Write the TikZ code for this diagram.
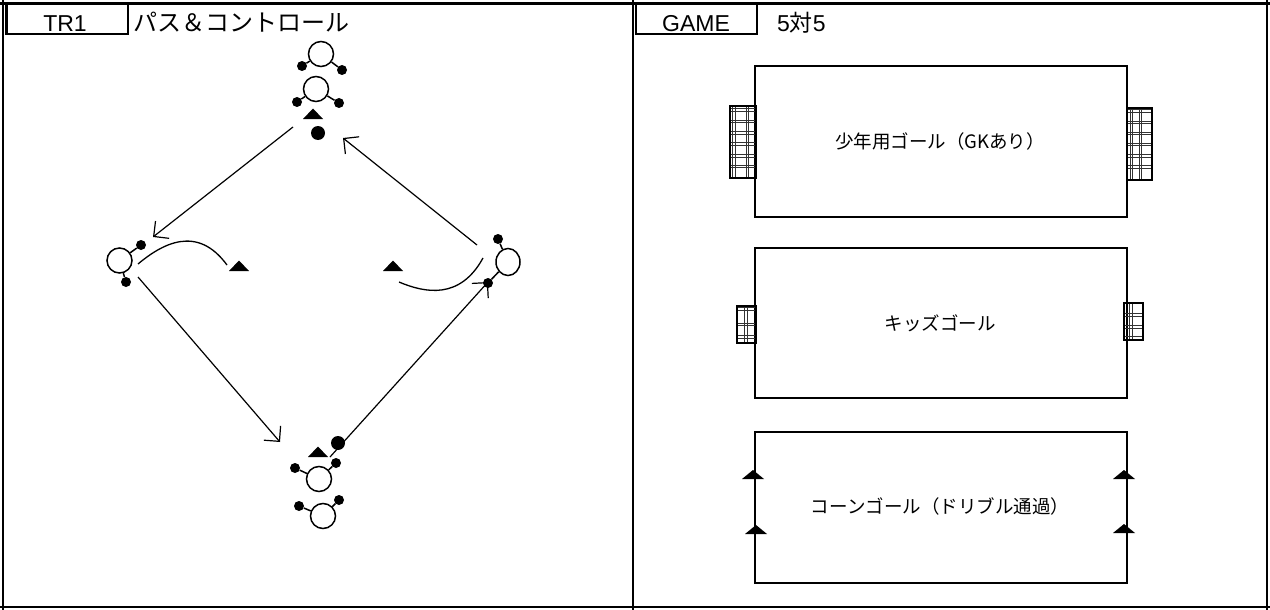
\documentclass[tikz,border=0pt]{standalone}
\usepackage{fontspec}
\setmainfont{Liberation Sans}
\newfontfamily\jp{Noto Sans CJK JP}
\usetikzlibrary{arrows.meta,shapes.geometric}
\newcommand\netgoal[6]{%
  \foreach \xx in {#5} {\draw[netline] (\xx-1.3,#2) -- (\xx-1.3,#4) (\xx+1.3,#2) -- (\xx+1.3,#4);}
  \foreach \yy in {#6} {\draw[netline] (#1,\yy-1.3) -- (#3,\yy-1.3) (#1,\yy+1.3) -- (#3,\yy+1.3);}
  \draw[line width=2pt] (#1,#2) rectangle (#3,#4);
}
\begin{document}
\begin{tikzpicture}[x=1pt,y=-1pt,
  frame/.style={line width=2.8pt},
  hdrbox/.style={line width=2.8pt},
  field/.style={line width=2.4pt},
  netline/.style={line width=1.1pt,black!80},
  pass/.style={line width=1.2pt,-{Straight Barb[length=11pt,width=22pt,line width=1.2pt]}},
  runline/.style={line width=1.3pt},
  player/.style={circle,draw,line width=1.5pt,minimum size=25pt,inner sep=0pt},
  hand/.style={circle,fill,minimum size=10pt,inner sep=0pt},
  ball/.style={circle,fill,minimum size=14pt,inner sep=0pt},
  arm/.style={line width=1.5pt},
  hdr/.style={font=\fontsize{23}{23}\selectfont,inner sep=0pt},
  lbl/.style={font=\jp\fontsize{18.5}{18.5}\selectfont,inner sep=0pt},
  cone/.pic={\fill (-10,4) -- (10,4) -- (0,-6.5) -- cycle;},
  fcone/.pic={\fill (-11,0) -- (11,0) -- (0,-9) -- cycle;}
]
\useasboundingbox (0,0) rectangle (1270,610);
% frame
\draw[frame] (0,3.5) -- (1270,3.5);
\draw[frame] (3,0) -- (3,610);
\draw[frame] (633,0) -- (633,610);
\draw[frame] (1267,0) -- (1267,610);
\draw[frame] (0,607) -- (1270,607);
% headers
\draw[hdrbox] (6.5,3.5) -- (6.5,34) -- (128,34) -- (128,3.5);
\draw[hdrbox] (636,3.5) -- (636,34) -- (757,34) -- (757,3.5);
\node[hdr,anchor=base] (tr) at (65,32) {TR1};
\node[hdr,anchor=base west,font=\jp\fontsize{24}{24}\selectfont] (ttl) at (133,32) {パス＆コントロール};
\node[hdr,anchor=base] (game) at (696,32) {GAME};
\node[hdr,anchor=base west] (vs) at (777,32) {5{\jp 対}5};

% ---------- left panel ----------
% top players
\node[player] (t1) at (321,54) {};
\node[hand] (t1a) at (302,66) {};
\node[hand] (t1b) at (342,70) {};
\draw[arm] (t1) -- (t1a); \draw[arm] (t1) -- (t1b);
\node[player] (t2) at (316,89) {};
\node[hand] (t2a) at (297,102) {};
\node[hand] (t2b) at (339,103) {};
\draw[arm] (t2) -- (t2a); \draw[arm] (t2) -- (t2b);
\pic at (313,115) {cone};
\node[ball] (b1) at (318,133) {};
% left player
\node[player] (lp) at (119.5,260.5) {};
\node[hand] (lpa) at (141,245) {};
\node[hand] (lpb) at (126,282) {};
\draw[arm] (lp) -- (lpa); \draw[arm] (lp) -- (lpb);
\pic at (239,267) {cone};
% right player
\node[ellipse,draw,line width=1.5pt,minimum width=24pt,minimum height=27pt,inner sep=0pt] (rp) at (508,262) {};
\node[hand] (rpa) at (498,239) {};
\node[hand] (rpb) at (488,283) {};
\draw[arm] (rp) -- (rpa); \draw[arm] (rp) -- (rpb);
\pic at (393,267) {cone};
% bottom players
\node[ball] (b2) at (338,443) {};
\pic at (318,453) {cone};
\node[player] (p1) at (319,479) {};
\node[hand] (p1a) at (295,468) {};
\node[hand] (p1b) at (336,463) {};
\draw[arm] (p1) -- (p1a); \draw[arm] (p1) -- (p1b);
\node[player] (p2) at (323,516) {};
\node[hand] (p2a) at (299,506) {};
\node[hand] (p2b) at (339,500) {};
\draw[arm] (p2) -- (p2a); \draw[arm] (p2) -- (p2b);
% passes
\coordinate (a1s) at (293,127); \coordinate (a1e) at (153,237);
\coordinate (a2s) at (477,245); \coordinate (a2e) at (343,138);
\coordinate (a3s) at (138,277); \coordinate (a3e) at (280,442);
\coordinate (a4s) at (330,457); \coordinate (a4e) at (488,282);
\draw[pass] (a1s) -- (a1e);
\draw[pass] (a2s) -- (a2e);
\draw[pass] (a3s) -- (a3e);
\draw[pass] (a4s) -- (a4e);
% runs
\coordinate (r1s) at (138,264); \coordinate (r1e) at (227,265);
\coordinate (r2s) at (399,282); \coordinate (r2e) at (483,258);
\draw[runline] (r1s) .. controls (162,244) and (197,224) .. (r1e);
\draw[runline] (r2s) .. controls (425,293) and (460,300) .. (r2e);

% ---------- right panel ----------
\draw[field] (755,66) rectangle (1127,217);
\draw[field] (755,248) rectangle (1127,398);
\draw[field] (755,432) rectangle (1127,583);
\netgoal{730}{106}{756}{178}{734,747.5}{110,121.5,133,144,156,166.5}
\netgoal{1127}{108}{1152}{180}{1131.5,1140.5}{111,122.5,133.5,144.5,156,167}
\netgoal{737}{306}{756}{343}{746}{309,324.5,337}
\netgoal{1124}{303}{1143}{340}{1131}{315,327,338}
\node[lbl] (f1) at (940,141) {少年用ゴール（GKあり）};
\node[lbl] (f2) at (940,323) {キッズゴール};
\node[lbl] (f3) at (940,506) {コーンゴール（ドリブル通過）};
\pic at (753,479) {fcone};
\pic at (756,534) {fcone};
\pic at (1124,479) {fcone};
\pic at (1124,533) {fcone};
\end{tikzpicture}
\end{document}
